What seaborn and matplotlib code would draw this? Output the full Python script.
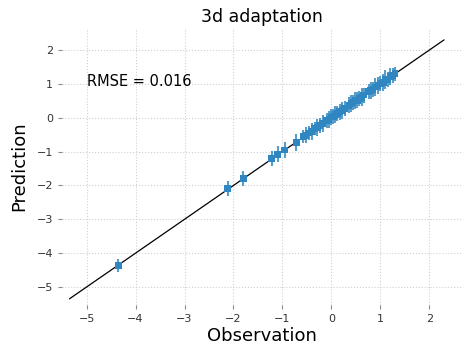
import numpy as np
import matplotlib
matplotlib.use("Agg")
import matplotlib.pyplot as plt
import pandas as pd
import seaborn as sns

observation = [-4.35, -2.12, -1.80, -1.22, -1.10, -0.95, -0.72,
               -0.58, -0.52, -0.46, -0.40, -0.34, -0.29, -0.24, -0.18,
               -0.10, -0.05, 0.00, 0.04, 0.08, 0.12, 0.17, 0.22, 0.27,
               0.36, 0.40, 0.44, 0.48, 0.53, 0.57, 0.62, 0.66,
               0.76, 0.80, 0.85, 0.90, 0.95, 1.00, 1.06, 1.10, 1.15,
               1.20, 1.25, 1.30]
prediction = [-4.37, -2.10, -1.80, -1.20, -1.08, -0.95, -0.72,
              -0.56, -0.52, -0.45, -0.41, -0.32, -0.29, -0.22, -0.18,
              -0.08, -0.05, 0.02, 0.03, 0.10, 0.12, 0.18, 0.21, 0.27,
              0.37, 0.42, 0.44, 0.50, 0.52, 0.58, 0.61, 0.67,
              0.77, 0.81, 0.84, 0.91, 0.95, 1.02, 1.05, 1.12, 1.14,
              1.21, 1.24, 1.30]
pred_err = [0.20, 0.22, 0.22, 0.22, 0.24, 0.24, 0.25,
            0.20, 0.24, 0.22, 0.25, 0.20, 0.24, 0.22, 0.25,
            0.22, 0.25, 0.24, 0.22, 0.26, 0.22, 0.24, 0.25, 0.22,
            0.24, 0.26, 0.22, 0.25, 0.24, 0.22, 0.26, 0.22,
            0.22, 0.25, 0.22, 0.26, 0.24, 0.22, 0.25, 0.28, 0.22,
            0.25, 0.22, 0.20]
line_range = [-5.35, 2.3]
rmse_text = "RMSE = 0.016"

df = pd.DataFrame({"Observation": observation, "Prediction": prediction})

sns.set_style("whitegrid", {"grid.linestyle": ":", "grid.color": "#d0d0d0",
                            "xtick.bottom": True, "ytick.left": True,
                            "text.color": "black", "axes.labelcolor": "black",
                            "xtick.color": "#333333", "ytick.color": "#333333"})
fig = plt.figure(figsize=(4.74, 3.55), dpi=100)
ax = fig.add_axes([0.131, 0.141, 0.844, 0.78])

sns.lineplot(x=line_range, y=line_range, color="black", linewidth=0.9, ax=ax)
ax.errorbar(observation, prediction, yerr=pred_err, fmt="none",
            ecolor="#3a8dc5", elinewidth=1.5, capsize=0, alpha=0.85)
sns.scatterplot(data=df, x="Observation", y="Prediction", marker="s", s=24,
                color="#2f86c0", edgecolor="none", ax=ax, zorder=3)

ax.text(-5.0, 0.95, rmse_text, fontsize=10.5, color="black")

ax.set_xlim(-5.5, 2.67)
ax.set_ylim(-5.53, 2.65)
ax.set_xticks(range(-5, 3))
ax.set_yticks(range(-5, 3))
ax.tick_params(axis="both", labelsize=8, length=3, color="#888888", width=0.8)
ax.set_title("3d adaptation", fontsize=12.5, color="black", pad=4)
ax.set_xlabel("Observation", fontsize=13, labelpad=2)
ax.set_ylabel("Prediction", fontsize=13, labelpad=6)
sns.despine(ax=ax, left=True, bottom=True)

fig.savefig("out.png", dpi=100)
